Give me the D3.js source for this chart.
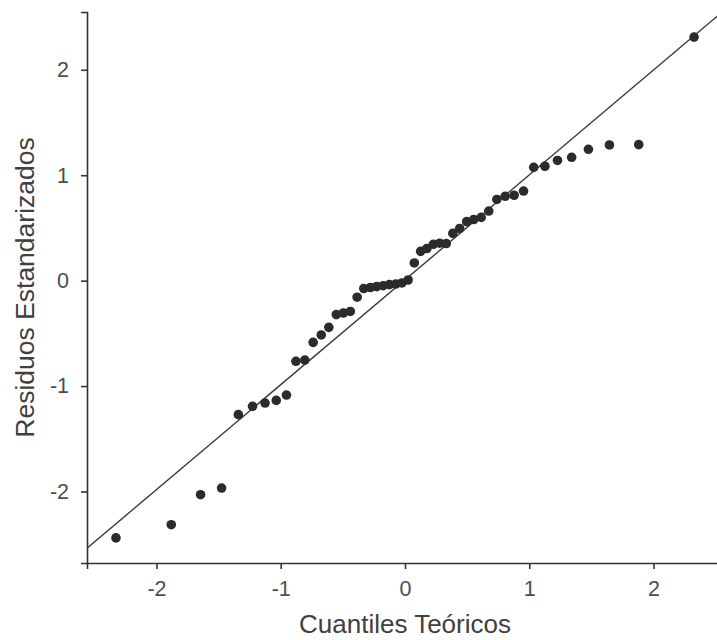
<!DOCTYPE html>
<html>
<head>
<meta charset="utf-8">
<script src="https://cdn.jsdelivr.net/npm/d3@7"></script>
<style>
  html, body { margin: 0; padding: 0; background: #fff; }
  svg { display: block; }
</style>
</head>
<body>
<svg id="chart" width="717" height="640"></svg>
<script>
// Theoretical quantiles (x) and standardized residuals (y)
const theoreticalQuantiles = [-2.326,-1.881,-1.645,-1.476,-1.341,-1.227,-1.126,-1.036,-0.954,-0.878,
  -0.806,-0.739,-0.674,-0.613,-0.553,-0.496,-0.440,-0.385,-0.332,-0.279,
  -0.228,-0.176,-0.126,-0.075,-0.025,0.025,0.075,0.126,0.176,0.228,
  0.279,0.332,0.385,0.440,0.496,0.553,0.613,0.674,0.739,0.806,
  0.878,0.954,1.036,1.126,1.227,1.341,1.476,1.645,1.881,2.326];
const standardizedResiduals = [-2.44,-2.315,-2.03,-1.967,-1.271,-1.192,-1.161,-1.136,-1.085,-0.765,
  -0.753,-0.585,-0.515,-0.443,-0.322,-0.307,-0.292,-0.157,-0.075,-0.065,
  -0.057,-0.048,-0.038,-0.032,-0.022,0.006,0.168,0.278,0.305,0.345,
  0.355,0.352,0.448,0.495,0.56,0.58,0.60,0.66,0.77,0.80,
  0.81,0.85,1.075,1.085,1.14,1.17,1.246,1.287,1.29,2.31];
// Reference line (qqline) intercept and slope
const refLine = { intercept: 0.008, slope: 0.995 };
const xTicks = [-2, -1, 0, 1, 2];
const yTicks = [-2, -1, 0, 1, 2];
const xLabel = "Cuantiles Teóricos";
const yLabel = "Residuos Estandarizados";

(function () {
const svg = d3.select("#chart");
const pLeft = 87, pRight = 723, pTop = 12, pBottom = 563;

const x = d3.scaleLinear().domain([-2.559, 2.559]).range([pLeft, pRight]);
const y = d3.scaleLinear().domain([-2.678, 2.548]).range([pBottom, pTop]);

svg.append("defs").append("clipPath").attr("id", "panel")
  .append("rect").attr("x", pLeft).attr("y", pTop).attr("width", pRight - pLeft).attr("height", pBottom - pTop);

const font = "'Liberation Sans', Arial, sans-serif";

// reference line
const xd = x.domain();
svg.append("line")
  .attr("clip-path", "url(#panel)")
  .attr("x1", x(xd[0])).attr("y1", y(refLine.intercept + refLine.slope * xd[0]))
  .attr("x2", x(xd[1])).attr("y2", y(refLine.intercept + refLine.slope * xd[1]))
  .attr("stroke", "#3a3a3a").attr("stroke-width", 1.4);

// points
const pts = theoreticalQuantiles.map((q, i) => ({ q, r: standardizedResiduals[i] }));
svg.append("g").selectAll("circle").data(pts).join("circle")
  .attr("cx", d => x(d.q)).attr("cy", d => y(d.r)).attr("r", 4.8)
  .attr("fill", "#2b2b2b");

// axes
const xAxis = svg.append("g").attr("transform", `translate(0,${pBottom})`)
  .call(d3.axisBottom(x).tickValues(xTicks).tickSize(6).tickPadding(12).tickFormat(d3.format("d")));
const yAxis = svg.append("g").attr("transform", `translate(${pLeft},0)`)
  .call(d3.axisLeft(y).tickValues(yTicks).tickSize(6).tickPadding(12).tickFormat(d3.format("d")));

[xAxis, yAxis].forEach(g => {
  g.select(".domain").attr("stroke", "#333").attr("stroke-width", 1.6);
  g.selectAll(".tick line").attr("stroke", "#333").attr("stroke-width", 1.6);
  g.selectAll(".tick text").attr("fill", "#4d4d4d")
    .style("font-family", font).style("font-size", "21.5px");
});
xAxis.selectAll(".tick text").text(d => String(d));
yAxis.selectAll(".tick text").text(d => String(d));

// axis titles
svg.append("text")
  .attr("x", x(0)).attr("y", 633)
  .attr("text-anchor", "middle")
  .attr("fill", "#404040")
  .style("font-family", font).style("font-size", "26px")
  .text(xLabel);

svg.append("text")
  .attr("transform", `translate(34,${(pTop + pBottom) / 2}) rotate(-90)`)
  .attr("text-anchor", "middle")
  .attr("fill", "#404040")
  .style("font-family", font).style("font-size", "26.5px")
  .text(yLabel);
})();
</script>
</body>
</html>
